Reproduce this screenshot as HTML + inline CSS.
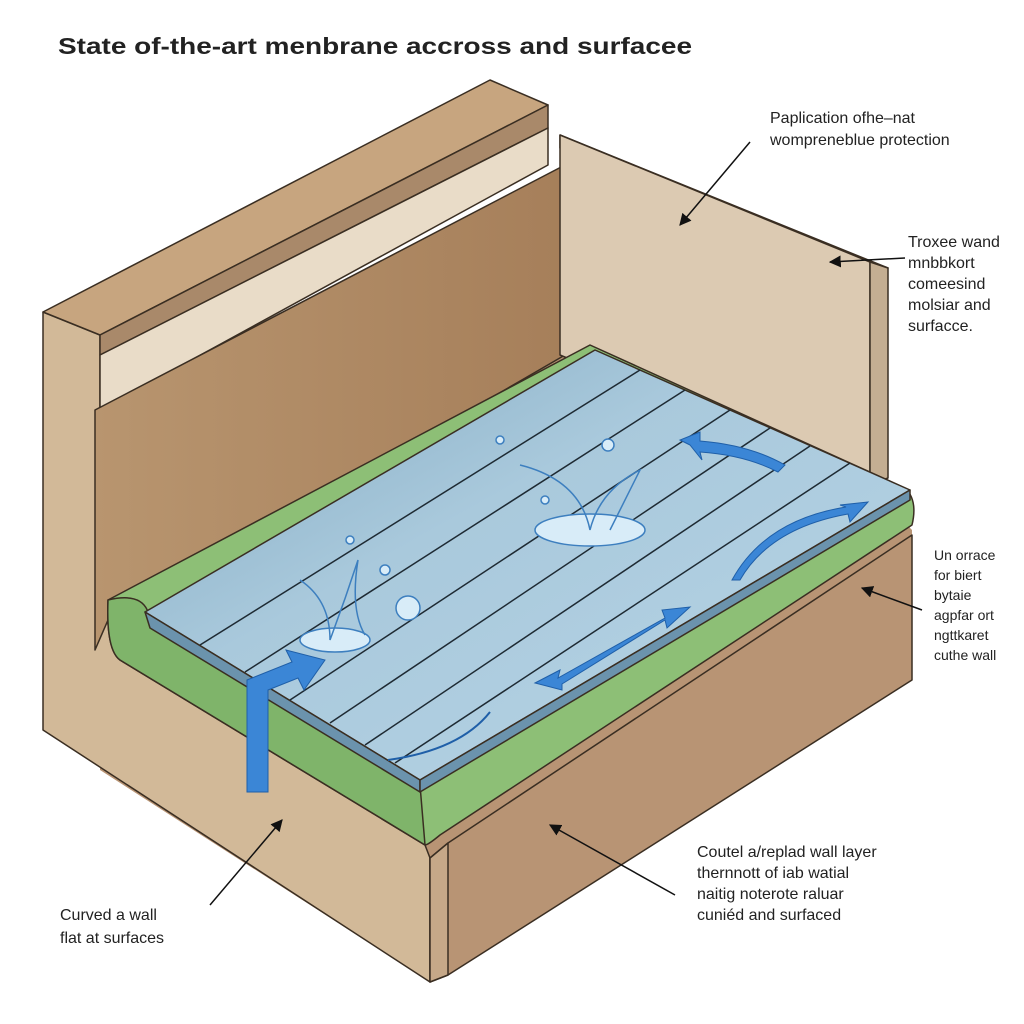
<!DOCTYPE html>
<html><head><meta charset="utf-8"><style>
html,body{margin:0;padding:0;background:#fff;}
svg{display:block}
text{font-family:"Liberation Sans",sans-serif;fill:#222}
</style></head><body>
<svg width="1024" height="1024" viewBox="0 0 1024 1024" xmlns="http://www.w3.org/2000/svg">
<defs>
<marker id="ah" viewBox="0 0 10 10" refX="9" refY="5" markerWidth="8" markerHeight="8" orient="auto"><path d="M0,0 L10,5 L0,10 z" fill="#111"/></marker>
<linearGradient id="wall" x1="0" y1="0" x2="1" y2="0"><stop offset="0" stop-color="#b8956f"/><stop offset="1" stop-color="#a67f5a"/></linearGradient>
<linearGradient id="blue" x1="0" y1="0" x2="1" y2="1"><stop offset="0" stop-color="#7fa7bf"/><stop offset="0.4" stop-color="#a9c9dc"/><stop offset="1" stop-color="#b7d4e6"/></linearGradient>
</defs>
<text x="58" y="54" font-size="23" font-weight="bold" textLength="634" lengthAdjust="spacingAndGlyphs">State of-the-art menbrane accross and surfacee</text>
<g stroke="#3a2e22" stroke-width="1.5" stroke-linejoin="round">
<polygon points="95,410 565,165 912,530 912,680 448,975 430,982 100,770" fill="#b89474" stroke="none"/>
<polygon points="43,312 100,335 100,600 120,660 425,845 430,858 430,982 43,730" fill="#d2b998"/>
<polygon points="43,312 490,80 548,105 100,335" fill="#c7a57f"/>
<polygon points="100,335 548,105 548,128 100,355" fill="#a9896a"/>
<polygon points="100,355 548,128 548,165 100,410" fill="#e9dcc8"/>
<polygon points="95,410 565,165 565,355 108,620 95,650" fill="url(#wall)"/>
<polygon points="560,135 888,268 870,276 560,148" fill="#c9b49a"/>
<polygon points="560,135 870,262 870,485 560,355" fill="#dccab2"/>
<polygon points="870,262 888,268 888,478 870,485" fill="#c4ae92"/>
<polygon points="430,858 448,843 912,535 912,680 448,975 430,982" fill="#b89474"/>
<polygon points="430,858 448,843 448,975 430,982" fill="#c6a888"/>
<path d="M108,600 L590,345 L905,488 Q918,500 912,525 L440,835 Q428,845 425,845 L120,660 Q106,650 108,600 Z" fill="#8dbf76"/>
<path d="M108,600 Q150,590 150,625 L420,785 L425,845 L120,660 Q106,650 108,600Z" fill="#7fb46a"/>
<polygon points="145,612 595,350 910,490 420,780" fill="url(#blue)"/>
<polygon points="145,612 420,780 420,792 150,628" fill="#6b93ad"/>
<polygon points="420,780 910,490 910,500 420,792" fill="#6b93ad"/>
</g>
<g stroke="#1e2a33" stroke-width="1.5">
<line x1="200" y1="645" x2="640" y2="370"/>
<line x1="245" y1="672" x2="685" y2="390"/>
<line x1="290" y1="700" x2="730" y2="410"/>
<line x1="330" y1="723" x2="770" y2="428"/>
<line x1="365" y1="745" x2="810" y2="446"/>
<line x1="395" y1="763" x2="850" y2="463"/>
</g>
<g fill="#d8ecf8" stroke="#3d7fbf" stroke-width="1.5">
<circle cx="408" cy="608" r="12"/><circle cx="385" cy="570" r="5"/><circle cx="350" cy="540" r="4"/>
<ellipse cx="335" cy="640" rx="35" ry="12"/><path d="M300,580 Q330,600 330,640 Q345,600 358,560 Q350,610 365,635" fill="none"/>
<ellipse cx="590" cy="530" rx="55" ry="16"/><path d="M520,465 Q580,480 590,530 Q600,490 640,470 Q620,510 610,530" fill="none"/>
<circle cx="608" cy="445" r="6"/><circle cx="500" cy="440" r="4"/><circle cx="545" cy="500" r="4"/>
</g>
<g fill="#3b86d6" stroke="#1f5fa8" stroke-width="1">
<polygon points="247,792 247,680 292,662 286,650 325,660 304,690 298,678 268,690 268,792"/>
<polygon points="535,683 560,670 558,678 665,618 662,610 690,607 667,628 665,620 562,684 562,690"/>
<path d="M690,445 L680,440 L700,432 L700,441 Q750,445 785,465 L778,472 Q745,455 700,452 L702,460 Z"/>
<path d="M840,505 L868,502 L850,522 L848,514 Q770,528 740,580 L732,580 Q765,520 846,507Z"/>
</g>
<path d="M388,760 Q460,750 490,712" stroke="#1f5fa8" stroke-width="2" fill="none"/>
<g stroke="#111" stroke-width="1.5" fill="none" marker-end="url(#ah)">
<line x1="750" y1="142" x2="680" y2="225"/>
<line x1="905" y1="258" x2="830" y2="262"/>
<line x1="922" y1="610" x2="862" y2="588"/>
<line x1="210" y1="905" x2="282" y2="820"/>
<line x1="675" y1="895" x2="550" y2="825"/>
</g>
<g font-size="16">
<text x="770" y="123">Paplication ofhe–nat</text>
<text x="770" y="145">wompreneblue protection</text>
<text x="908" y="247">Troxee wand</text>
<text x="908" y="268">mnbbkort</text>
<text x="908" y="289">comeesind</text>
<text x="908" y="310">molsiar and</text>
<text x="908" y="331">surfacce.</text>
<text x="934" y="560" font-size="14">Un orrace</text>
<text x="934" y="580" font-size="14">for biert</text>
<text x="934" y="600" font-size="14">bytaie</text>
<text x="934" y="620" font-size="14">agpfar ort</text>
<text x="934" y="640" font-size="14">ngttkaret</text>
<text x="934" y="660" font-size="14">cuthe wall</text>
<text x="697" y="857">Coutel a/replad wall layer</text>
<text x="697" y="878">thernnott of iab watial</text>
<text x="697" y="899">naitig noterote raluar</text>
<text x="697" y="920">cuniéd and surfaced</text>
<text x="60" y="920">Curved a wall</text>
<text x="60" y="943">flat at surfaces</text>
</g>
</svg>
</body></html>
